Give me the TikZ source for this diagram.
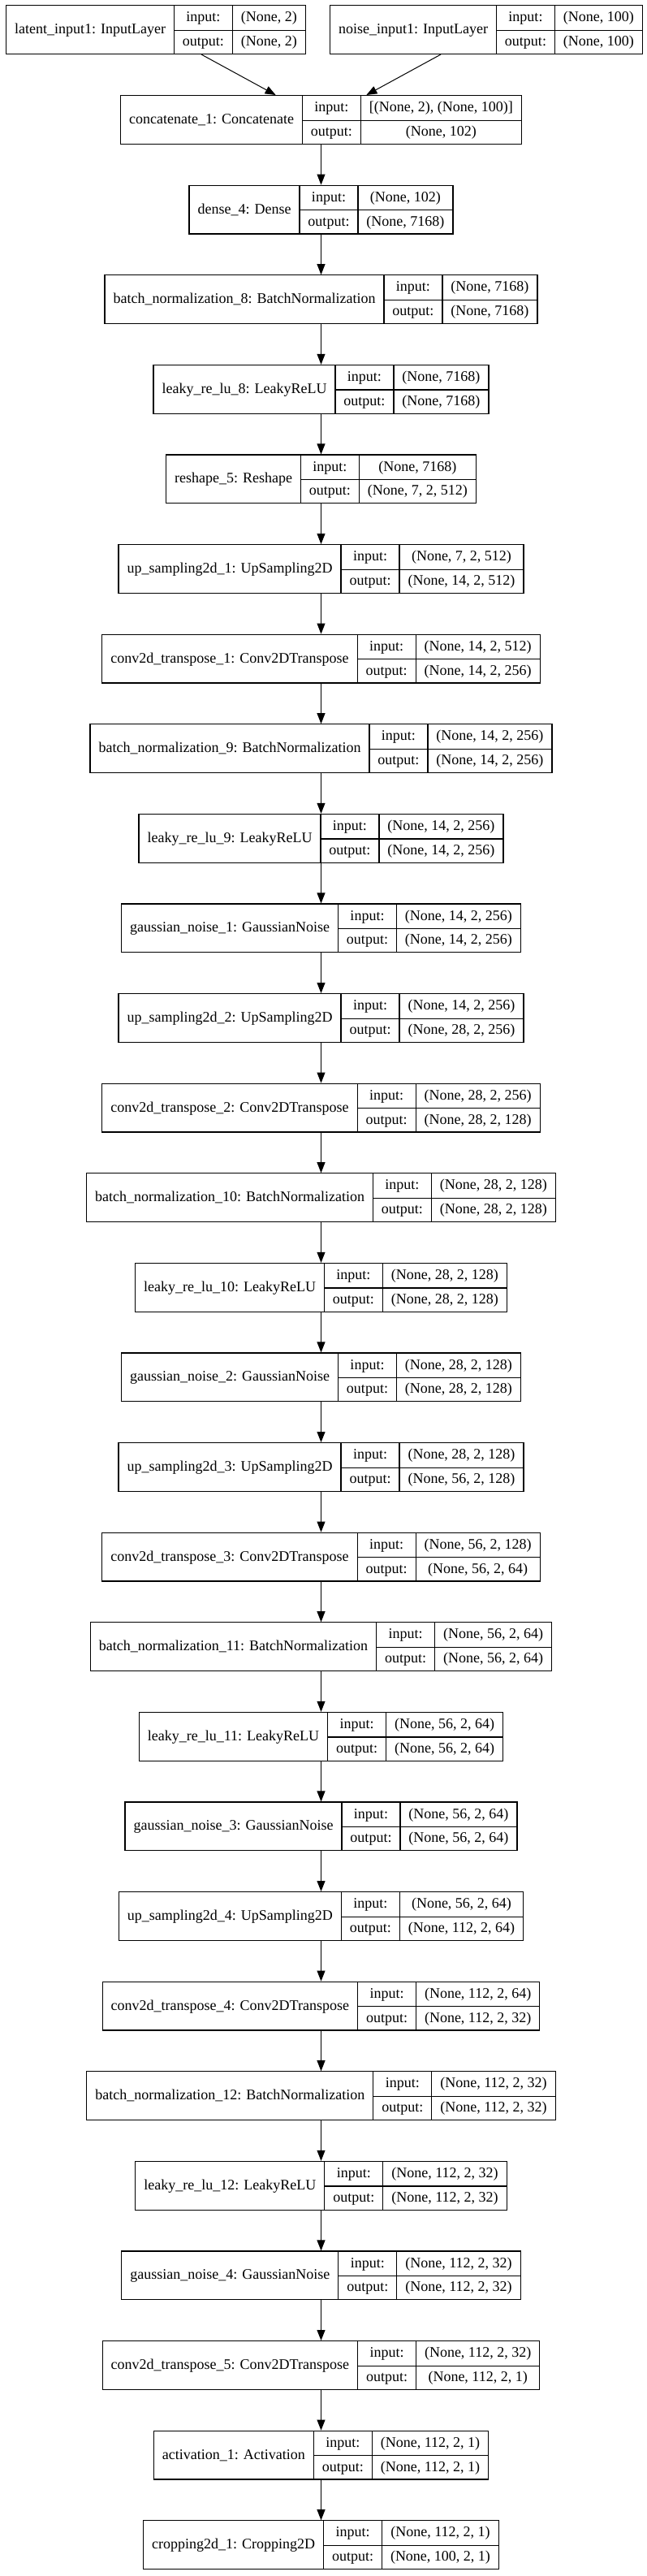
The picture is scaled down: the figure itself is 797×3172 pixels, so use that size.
\documentclass[tikz,border=0pt]{standalone}
\usepackage{fontspec}
\setmainfont{Liberation Serif}
\usepackage{tikz}
\usetikzlibrary{arrows.meta, positioning}

\setlength{\tabcolsep}{10.5pt}
\setlength{\arrayrulewidth}{1.2pt}
\newcommand{\rowst}{\rule[-9.9pt]{0pt}{29.9pt}}
\newcommand{\lyr}[3]{\begin{tabular}{c|c|c}\raisebox{-14.95pt}[0pt][0pt]{#1} & \rowst input: & #2\\ \cline{2-3} & \rowst output: & #3\end{tabular}}

\tikzset{
    layer/.style={draw, line width=1.2pt, inner sep=0pt, font=\fontsize{18}{21.6}\selectfont},
    arr/.style={line width=1pt, -{Triangle[length=13pt,width=10pt]}}
}

\begin{document}
\begin{tikzpicture}[x=1pt, y=-1pt]
                        \useasboundingbox (0,0) rectangle (797,3172);

                        \node[layer] (latent) at (192, 36.5) {\lyr{latent\_input1: InputLayer}{(None, 2)}{(None, 2)}};
                        \node[layer] (noise) at (599, 36.5) {\lyr{noise\_input1: InputLayer}{(None, 100)}{(None, 100)}};
                        \node[layer] (concat) at (395.5, 147.5) {\lyr{concatenate\_1: Concatenate}{[(None, 2), (None, 100)]}{(None, 102)}};
                        \node[layer] (dense4) at (395.5, 258.1) {\lyr{dense\_4: Dense}{(None, 102)}{(None, 7168)}};
                        \node[layer] (bn8) at (395.5, 368.7) {\lyr{batch\_normalization\_8: BatchNormalization}{(None, 7168)}{(None, 7168)}};
                        \node[layer] (lr8) at (395.5, 479.3) {\lyr{leaky\_re\_lu\_8: LeakyReLU}{(None, 7168)}{(None, 7168)}};
                        \node[layer] (rs5) at (395.5, 589.9) {\lyr{reshape\_5: Reshape}{(None, 7168)}{(None, 7, 2, 512)}};
                        \node[layer] (up1) at (395.5, 700.5) {\lyr{up\_sampling2d\_1: UpSampling2D}{(None, 7, 2, 512)}{(None, 14, 2, 512)}};
                        \node[layer] (ct1) at (395.5, 811.1) {\lyr{conv2d\_transpose\_1: Conv2DTranspose}{(None, 14, 2, 512)}{(None, 14, 2, 256)}};
                        \node[layer] (bn9) at (395.5, 921.7) {\lyr{batch\_normalization\_9: BatchNormalization}{(None, 14, 2, 256)}{(None, 14, 2, 256)}};
                        \node[layer] (lr9) at (395.5, 1032.3) {\lyr{leaky\_re\_lu\_9: LeakyReLU}{(None, 14, 2, 256)}{(None, 14, 2, 256)}};
                        \node[layer] (gn1) at (395.5, 1142.9) {\lyr{gaussian\_noise\_1: GaussianNoise}{(None, 14, 2, 256)}{(None, 14, 2, 256)}};
                        \node[layer] (up2) at (395.5, 1253.5) {\lyr{up\_sampling2d\_2: UpSampling2D}{(None, 14, 2, 256)}{(None, 28, 2, 256)}};
                        \node[layer] (ct2) at (395.5, 1364.1) {\lyr{conv2d\_transpose\_2: Conv2DTranspose}{(None, 28, 2, 256)}{(None, 28, 2, 128)}};
                        \node[layer] (bn10) at (395.5, 1474.7) {\lyr{batch\_normalization\_10: BatchNormalization}{(None, 28, 2, 128)}{(None, 28, 2, 128)}};
                        \node[layer] (lr10) at (395.5, 1585.3) {\lyr{leaky\_re\_lu\_10: LeakyReLU}{(None, 28, 2, 128)}{(None, 28, 2, 128)}};
                        \node[layer] (gn2) at (395.5, 1695.9) {\lyr{gaussian\_noise\_2: GaussianNoise}{(None, 28, 2, 128)}{(None, 28, 2, 128)}};
                        \node[layer] (up3) at (395.5, 1806.5) {\lyr{up\_sampling2d\_3: UpSampling2D}{(None, 28, 2, 128)}{(None, 56, 2, 128)}};
                        \node[layer] (ct3) at (395.5, 1917.1) {\lyr{conv2d\_transpose\_3: Conv2DTranspose}{(None, 56, 2, 128)}{(None, 56, 2, 64)}};
                        \node[layer] (bn11) at (395.5, 2027.7) {\lyr{batch\_normalization\_11: BatchNormalization}{(None, 56, 2, 64)}{(None, 56, 2, 64)}};
                        \node[layer] (lr11) at (395.5, 2138.3) {\lyr{leaky\_re\_lu\_11: LeakyReLU}{(None, 56, 2, 64)}{(None, 56, 2, 64)}};
                        \node[layer] (gn3) at (395.5, 2248.9) {\lyr{gaussian\_noise\_3: GaussianNoise}{(None, 56, 2, 64)}{(None, 56, 2, 64)}};
                        \node[layer] (up4) at (395.5, 2359.5) {\lyr{up\_sampling2d\_4: UpSampling2D}{(None, 56, 2, 64)}{(None, 112, 2, 64)}};
                        \node[layer] (ct4) at (395.5, 2470.1) {\lyr{conv2d\_transpose\_4: Conv2DTranspose}{(None, 112, 2, 64)}{(None, 112, 2, 32)}};
                        \node[layer] (bn12) at (395.5, 2580.7) {\lyr{batch\_normalization\_12: BatchNormalization}{(None, 112, 2, 32)}{(None, 112, 2, 32)}};
                        \node[layer] (lr12) at (395.5, 2691.3) {\lyr{leaky\_re\_lu\_12: LeakyReLU}{(None, 112, 2, 32)}{(None, 112, 2, 32)}};
                        \node[layer] (gn4) at (395.5, 2801.9) {\lyr{gaussian\_noise\_4: GaussianNoise}{(None, 112, 2, 32)}{(None, 112, 2, 32)}};
                        \node[layer] (ct5) at (395.5, 2912.5) {\lyr{conv2d\_transpose\_5: Conv2DTranspose}{(None, 112, 2, 32)}{(None, 112, 2, 1)}};
                        \node[layer] (act1) at (395.5, 3023.1) {\lyr{activation\_1: Activation}{(None, 112, 2, 1)}{(None, 112, 2, 1)}};
                        \node[layer] (crop1) at (395.5, 3133.7) {\lyr{cropping2d\_1: Cropping2D}{(None, 112, 2, 1)}{(None, 100, 2, 1)}};

                        \draw[arr]
                        (latent) edge (concat)
                        (noise) edge (concat)
                        (concat) edge (dense4)
                        (dense4) edge (bn8)
                        (bn8) edge (lr8)
                        (lr8) edge (rs5)
                        (rs5) edge (up1)
                        (up1) edge (ct1)
                        (ct1) edge (bn9)
                        (bn9) edge (lr9)
                        (lr9) edge (gn1)
                        (gn1) edge (up2)
                        (up2) edge (ct2)
                        (ct2) edge (bn10)
                        (bn10) edge (lr10)
                        (lr10) edge (gn2)
                        (gn2) edge (up3)
                        (up3) edge (ct3)
                        (ct3) edge (bn11)
                        (bn11) edge (lr11)
                        (lr11) edge (gn3)
                        (gn3) edge (up4)
                        (up4) edge (ct4)
                        (ct4) edge (bn12)
                        (bn12) edge (lr12)
                        (lr12) edge (gn4)
                        (gn4) edge (ct5)
                        (ct5) edge (act1)
                        (act1) edge (crop1);
                    \end{tikzpicture}
\end{document}
